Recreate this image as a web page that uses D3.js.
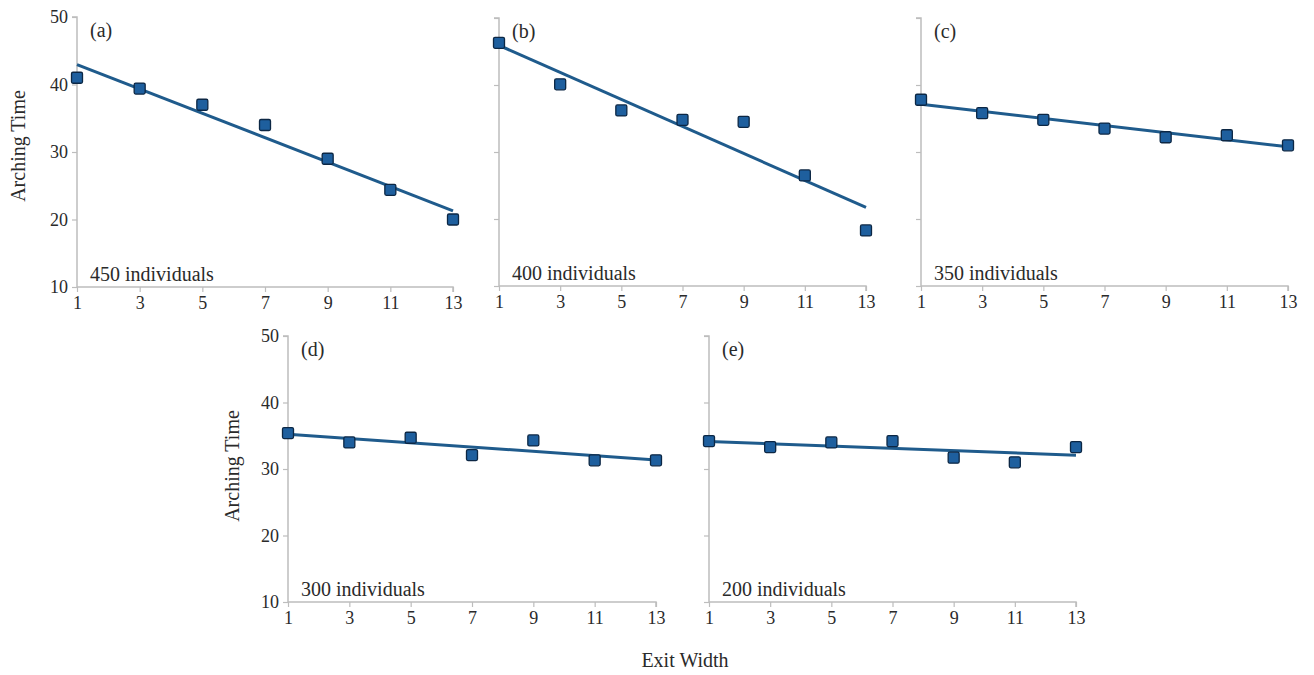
<!DOCTYPE html>
<html>
<head>
<meta charset="utf-8">
<script src="https://cdn.jsdelivr.net/npm/d3@7"></script>
<style>
  html, body { margin: 0; padding: 0; background: #fff; }
  svg { display: block; font-family: "Liberation Serif", "Times New Roman", serif; }
</style>
</head>
<body>
<svg id="chart" width="1314" height="675"></svg>
<script>
// ---- data ----
const exitWidths = [1, 3, 5, 7, 9, 11, 13];
const panelLabels = ["(a)", "(b)", "(c)", "(d)", "(e)"];
const crowdLabels = ["450 individuals", "400 individuals", "350 individuals", "300 individuals", "200 individuals"];
const series450 = [41.0, 39.4, 37.0, 34.0, 29.0, 24.4, 20.0];
const series400 = [46.3, 40.1, 36.2, 34.8, 34.5, 26.5, 18.3];
const series350 = [37.8, 35.8, 34.8, 33.5, 32.2, 32.5, 31.0];
const series300 = [35.4, 34.0, 34.7, 32.1, 34.3, 31.3, 31.3];
const series200 = [34.2, 33.3, 34.0, 34.2, 31.7, 31.0, 33.3];
const yTicks = [10, 20, 30, 40, 50];
const xTicks = [1, 3, 5, 7, 9, 11, 13];
const yDomain = [10, 50];
const xDomain = [1, 13];
const yTitle = "Arching Time";
const xTitle = "Exit Width";

const allSeries = [series450, series400, series350, series300, series200];

// ---- layout ----
const panels = [
  { x0: 77,  x1: 453,  y0: 17,  y1: 287, yLabels: true },
  { x0: 499, x1: 866,  y0: 18,  y1: 286, yLabels: false },
  { x0: 921, x1: 1288, y0: 18,  y1: 286, yLabels: false },
  { x0: 288, x1: 656,  y0: 336, y1: 602, yLabels: true },
  { x0: 709, x1: 1076, y0: 336, y1: 602, yLabels: false }
];

const axisColor = "#bdbdbd";
const lineColor = "#1f5b8c";
const markFill = "#1e5f9e";
const markStroke = "#0c2744";
const textColor = "#2a2a2a";
const serif = "Liberation Serif, Times New Roman, serif";

const svg = d3.select("#chart");

function regression(xs, ys) {
  const n = xs.length;
  const mx = d3.mean(xs), my = d3.mean(ys);
  let sxy = 0, sxx = 0;
  for (let i = 0; i < n; i++) { sxy += (xs[i]-mx)*(ys[i]-my); sxx += (xs[i]-mx)*(xs[i]-mx); }
  const b = sxy / sxx;
  const a = my - b * mx;
  return x => a + b * x;
}

panels.forEach((p, i) => {
  const x = d3.scaleLinear().domain(xDomain).range([p.x0, p.x1]);
  const y = d3.scaleLinear().domain(yDomain).range([p.y1, p.y0]);
  const g = svg.append("g");

  // y axis
  const yAxis = d3.axisLeft(y).tickValues(yTicks).tickSize(5).tickPadding(4)
    .tickFormat(p.yLabels ? d3.format("d") : () => "");
  const ya = g.append("g").attr("transform", `translate(${p.x0},0)`).call(yAxis)
    .attr("font-family", serif).attr("font-size", 18);
  ya.select(".domain").attr("stroke", axisColor).attr("stroke-width", 1.5).attr("d", `M-5,${p.y0}H0V${p.y1}`);
  ya.selectAll(".tick line").attr("stroke", axisColor).attr("stroke-width", 1.2);
  ya.selectAll(".tick text").attr("fill", textColor);

  // x axis
  const xAxis = d3.axisBottom(x).tickValues(xTicks).tickSize(5).tickPadding(4).tickFormat(d3.format("d"));
  const xa = g.append("g").attr("transform", `translate(0,${p.y1})`).call(xAxis)
    .attr("font-family", serif).attr("font-size", 18);
  xa.select(".domain").attr("stroke", axisColor).attr("stroke-width", 1.5).attr("d", `M${p.x0},0H${p.x1}V5`);
  xa.selectAll(".tick line").attr("stroke", axisColor).attr("stroke-width", 1.2);
  xa.selectAll(".tick text").attr("fill", textColor);

  // trend line
  const ys = allSeries[i];
  const f = regression(exitWidths, ys);
  g.append("line")
    .attr("x1", x(xDomain[0])).attr("y1", y(f(xDomain[0])))
    .attr("x2", x(xDomain[1])).attr("y2", y(f(xDomain[1])))
    .attr("stroke", lineColor).attr("stroke-width", 3);

  // markers
  const s = 11;
  g.selectAll("rect.pt").data(exitWidths.map((d, k) => ({ x: d, y: ys[k] })))
    .enter().append("rect").attr("class", "pt")
    .attr("x", d => x(d.x) - s / 2).attr("y", d => y(d.y) - s / 2)
    .attr("width", s).attr("height", s).attr("rx", 1.5)
    .attr("fill", markFill).attr("stroke", markStroke).attr("stroke-width", 1.3);

  // panel label
  g.append("text").attr("x", p.x0 + 13).attr("y", p.y0 + 20)
    .attr("font-size", 20).attr("fill", textColor).text(panelLabels[i]);

  // crowd label
  g.append("text").attr("x", p.x0 + 13).attr("y", p.y1 - 6)
    .attr("font-size", 20).attr("fill", textColor).text(crowdLabels[i]);
});

// y titles
[[25, 146], [239, 466]].forEach(([cx, cy]) => {
  svg.append("text").attr("transform", `translate(${cx},${cy}) rotate(-90)`)
    .attr("text-anchor", "middle").attr("font-size", 20).attr("fill", textColor).text(yTitle);
});

// x title
svg.append("text").attr("x", 685).attr("y", 667).attr("text-anchor", "middle")
  .attr("font-size", 20).attr("fill", textColor).text(xTitle);
</script>
</body>
</html>
